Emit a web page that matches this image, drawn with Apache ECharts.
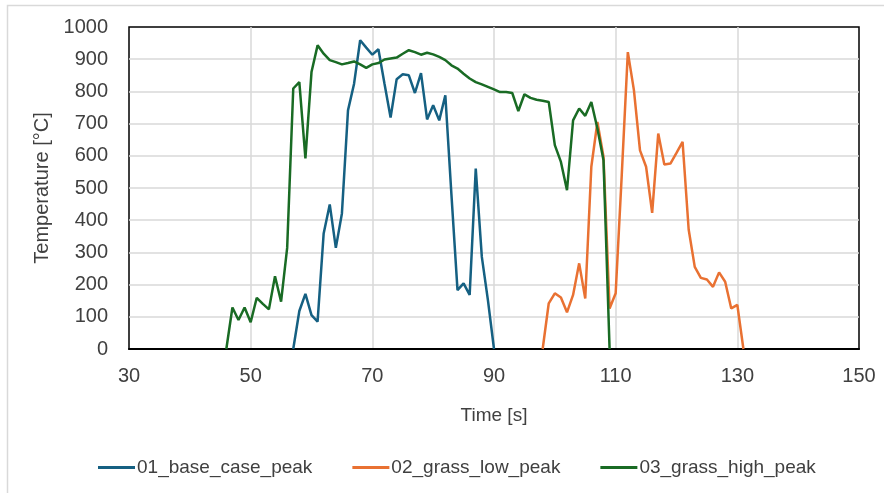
<!DOCTYPE html>
<html>
<head>
<meta charset="utf-8">
<script src="https://cdn.jsdelivr.net/npm/echarts@6/dist/echarts.min.js"></script>
<style>
  html, body { margin: 0; padding: 0; background: #fff; }
  #chart { width: 884px; height: 493px; }
</style>
</head>
<body>
<div id="chart"></div>
<script>
// Peak temperature traces, sampled once per second
const baseTime = [57, 58, 59, 60, 61, 62, 63, 64, 65, 66, 67, 68, 69, 70, 71, 72, 73, 74, 75, 76, 77, 78, 79, 80, 81, 82, 83, 84, 85, 86, 87, 88, 89, 90];
const baseTemp = [0, 118, 171, 105, 85, 359, 449, 314, 421, 741, 824, 959, 936, 914, 931, 824, 719, 838, 853, 850, 795, 857, 713, 757, 710, 788, 480, 183, 204, 168, 560, 286, 152, 0];

const lowTime = [98, 99, 100, 101, 102, 103, 104, 105, 106, 107, 108, 109, 110, 111, 112, 113, 114, 115, 116, 117, 118, 119, 120, 121, 122, 123, 124, 125, 126, 127, 128, 129, 130, 131];
const lowTemp = [0, 142, 173, 160, 114, 168, 266, 157, 566, 705, 597, 126, 173, 540, 922, 804, 617, 566, 423, 669, 573, 576, 609, 643, 371, 255, 221, 216, 193, 238, 209, 126, 137, 0];

const highTime = [46, 47, 48, 49, 50, 51, 52, 53, 54, 55, 56, 57, 58, 59, 60, 61, 62, 63, 64, 65, 66, 67, 68, 69, 70, 71, 72, 73, 74, 75, 76, 77, 78, 79, 80, 81, 82, 83, 84, 85, 86, 87, 88, 89, 90, 91, 92, 93, 94, 95, 96, 97, 98, 99, 100, 101, 102, 103, 104, 105, 106, 107, 108, 109];
const highTemp = [0, 129, 90, 129, 83, 159, 140, 123, 226, 147, 314, 809, 829, 592, 860, 943, 917, 897, 891, 884, 888, 893, 884, 873, 884, 888, 899, 902, 905, 917, 928, 922, 914, 920, 915, 907, 897, 881, 871, 855, 840, 829, 822, 814, 806, 798, 798, 795, 739, 791, 780, 774, 771, 767, 633, 581, 493, 710, 747, 724, 767, 685, 586, 0];

const seriesNames = ['01_base_case_peak', '02_grass_low_peak', '03_grass_high_peak'];
const seriesColors = ['#156082', '#E97132', '#196B24'];

const pairs = (xs, ys) => xs.map((x, i) => [x, ys[i]]);
const seriesData = [pairs(baseTime, baseTemp), pairs(lowTime, lowTemp), pairs(highTime, highTemp)];

const textColor = '#404040';
const font = '"Liberation Sans", Arial, sans-serif';
const gridLine = { show: true, showMinLine: false, showMaxLine: false, lineStyle: { color: '#d9d9d9', width: 1.5 } };

const chart = echarts.init(document.getElementById('chart'), null, { renderer: 'canvas' });
chart.setOption({
  animation: false,
  backgroundColor: '#fff',
  graphic: [{
    type: 'rect',
    shape: { x: 7.5, y: 5.5, width: 900, height: 500 },
    style: { fill: 'none', stroke: '#d9d9d9', lineWidth: 1.5 },
    silent: true,
    z: -1
  }],
  grid: {
    left: 129, right: 25, top: 27, bottom: 144,
    show: true, borderColor: '#000', borderWidth: 1.5, backgroundColor: 'transparent'
  },
  legend: {
    left: 93, top: 453,
    itemWidth: 37, itemHeight: 3, itemGap: 40,
    icon: 'rect',
    textStyle: { fontFamily: font, fontSize: 19, color: textColor, padding: [0, 0, 0, -3] },
    data: seriesNames
  },
  xAxis: {
    type: 'value', min: 30, max: 150, interval: 20,
    name: 'Time [s]', nameLocation: 'middle', nameGap: 57,
    nameTextStyle: { fontFamily: font, fontSize: 19, color: textColor },
    axisLine: { show: true, onZero: false, lineStyle: { color: '#000', width: 2 } },
    axisTick: { show: false },
    axisLabel: { fontFamily: font, fontSize: 20, color: textColor, margin: 17 },
    splitLine: gridLine
  },
  yAxis: {
    type: 'value', min: 0, max: 1000, interval: 100,
    name: 'Temperature [°C]', nameLocation: 'middle', nameGap: 68,
    nameTextStyle: { fontFamily: font, fontSize: 20, color: textColor },
    axisLine: { show: false }, axisTick: { show: false },
    axisLabel: { fontFamily: font, fontSize: 20, color: textColor, margin: 21, formatter: v => String(v) },
    splitLine: gridLine
  },
  series: seriesNames.map((name, i) => ({
    name, type: 'line', data: seriesData[i],
    showSymbol: false, symbol: 'none',
    lineStyle: { color: seriesColors[i], width: 2.5 },
    itemStyle: { color: seriesColors[i] },
    z: i === 2 ? 3 : 2
  }))
});
</script>
</body>
</html>
